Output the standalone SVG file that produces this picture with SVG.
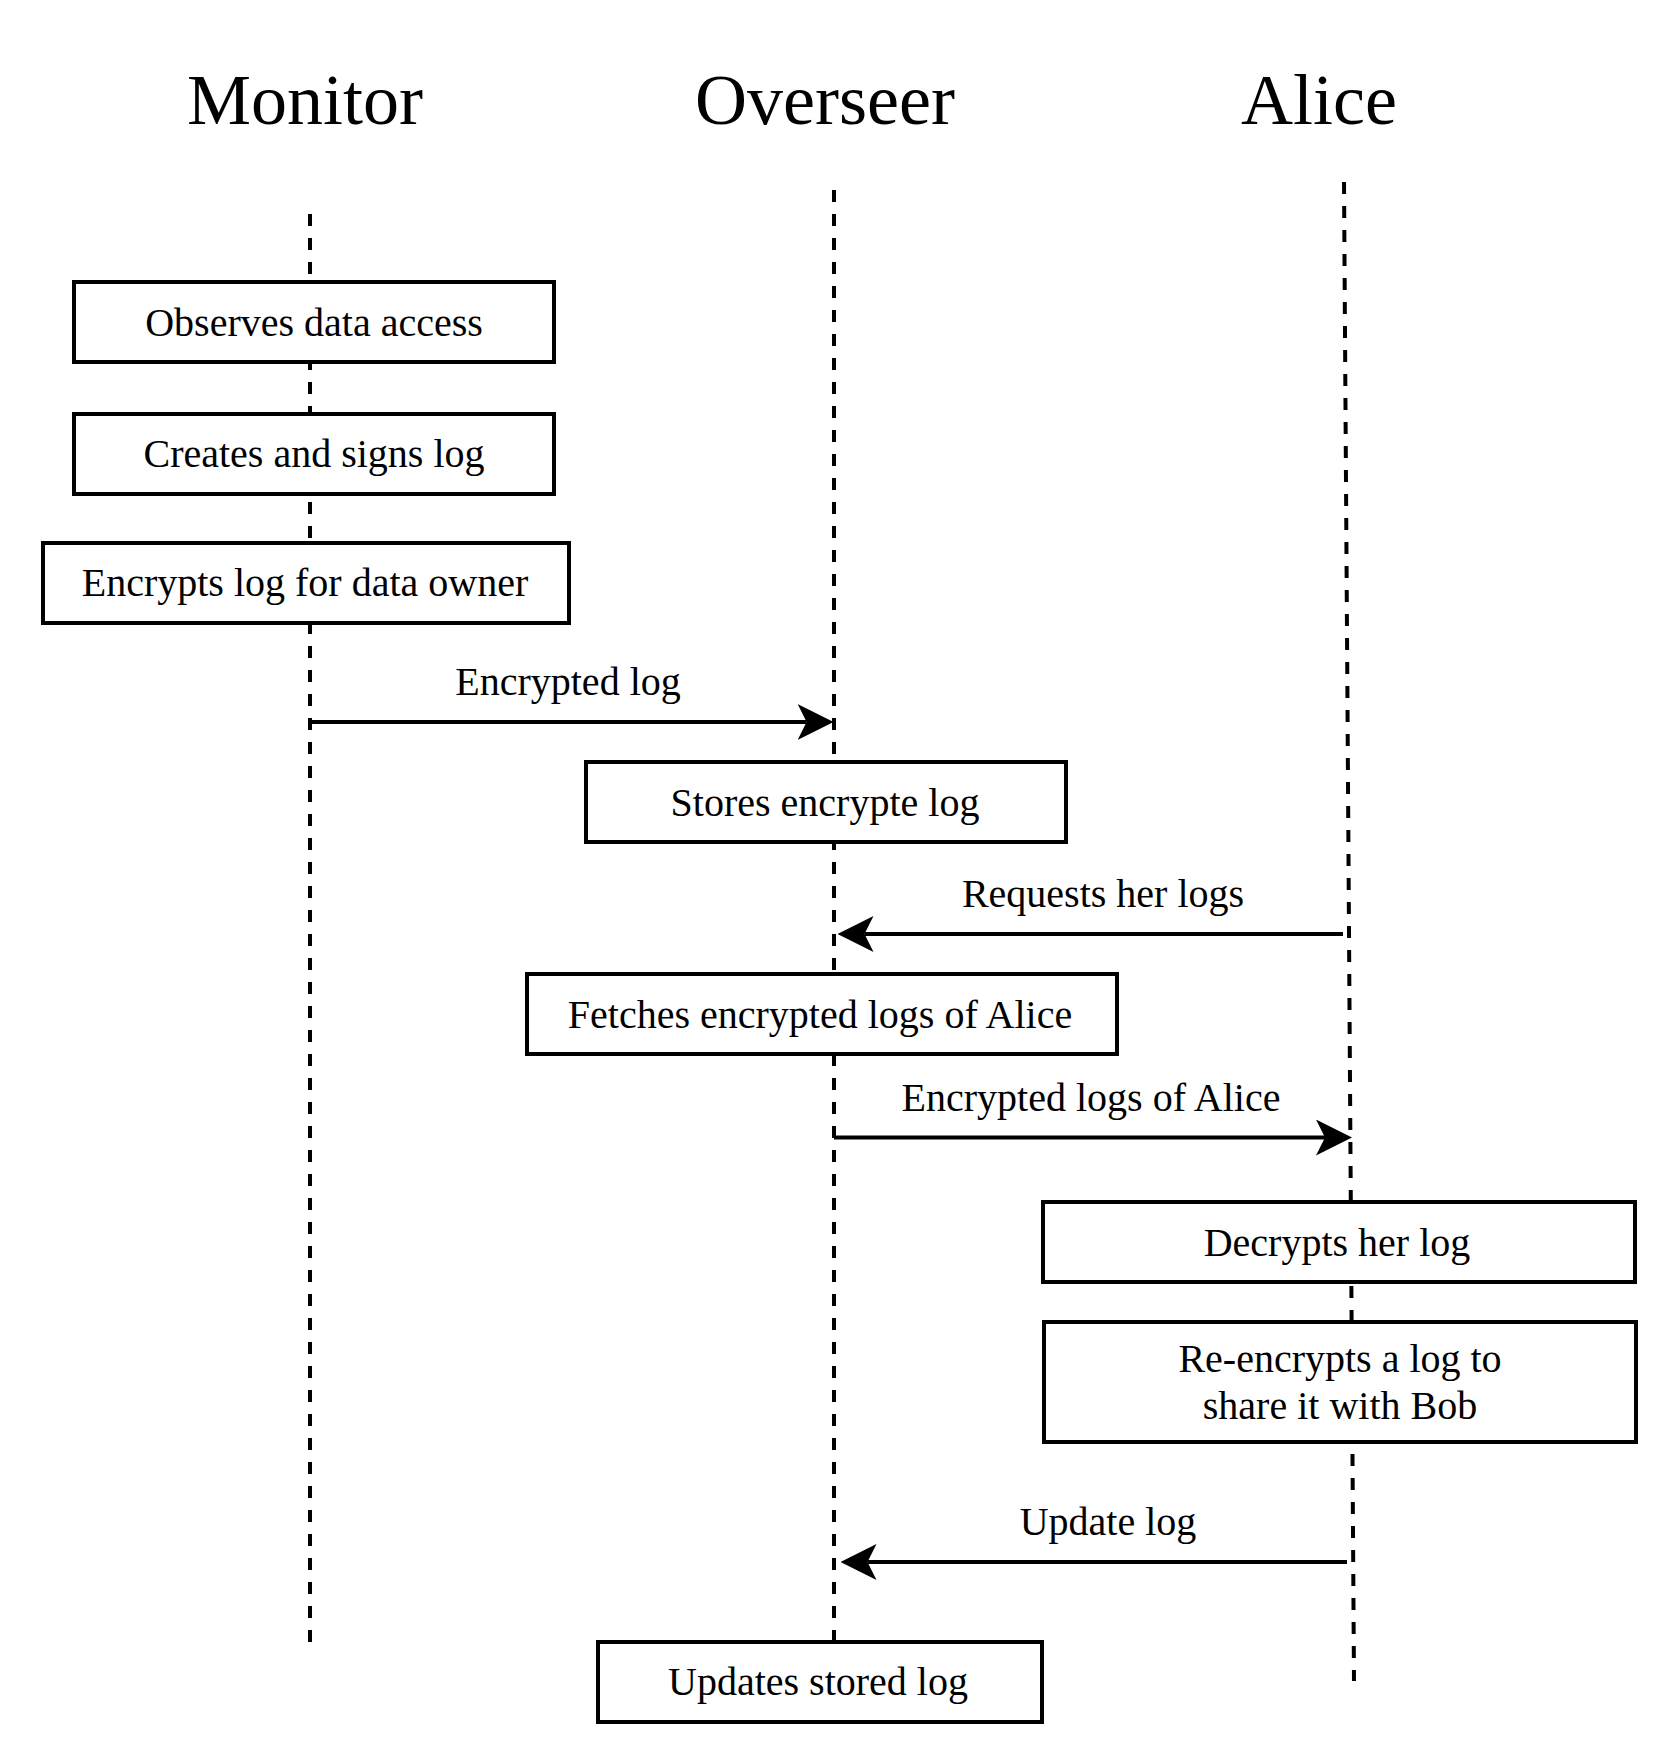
<svg xmlns="http://www.w3.org/2000/svg" width="1676" height="1764" viewBox="0 0 1676 1764">
<style>
  .title { font-family: "Liberation Serif", "Times New Roman", serif; font-size: 72px; fill: #000; text-anchor: middle; }
  .lbl { font-family: "Liberation Serif", "Times New Roman", serif; font-size: 40px; fill: #000; text-anchor: middle; }
  .box { fill: #fff; stroke: #000; stroke-width: 4; }
  .life { stroke: #000; stroke-width: 4; stroke-dasharray: 12 12; fill: none; }
  .msg { stroke: #000; stroke-width: 4; fill: none; marker-end: url(#arrow); }
</style>
<defs>
  <marker id="arrow" viewBox="0 0 36 36" refX="9" refY="18" markerWidth="36" markerHeight="36" markerUnits="userSpaceOnUse" orient="auto">
    <path d="M36,18 L0,0 L9,18 L0,36 Z" fill="#000"/>
  </marker>
</defs>
<rect width="1676" height="1764" fill="#fff"/>

<g id="lifelines">
  <g id="monitor">
    <text class="title" x="305" y="124">Monitor</text>
    <line class="life" x1="310" y1="214" x2="310" y2="1642"/>
  </g>
  <g id="overseer">
    <text class="title" x="825" y="124">Overseer</text>
    <line class="life" x1="834" y1="190" x2="834" y2="1642"/>
  </g>
  <g id="alice">
    <text class="title" x="1319" y="124">Alice</text>
    <line class="life" x1="1344" y1="182" x2="1354" y2="1681"/>
  </g>
</g>

<g id="observes">
  <rect class="box" x="74" y="282" width="480" height="80"/>
  <text class="lbl" x="314" y="336">Observes data access</text>
</g>
<g id="creates">
  <rect class="box" x="74" y="414" width="480" height="80"/>
  <text class="lbl" x="314" y="467">Creates and signs log</text>
</g>
<g id="encrypts">
  <rect class="box" x="43" y="543" width="526" height="80"/>
  <text class="lbl" x="305" y="596">Encrypts log for data owner</text>
</g>
<g id="stores">
  <rect class="box" x="586" y="762" width="480" height="80"/>
  <text class="lbl" x="825" y="816">Stores encrypte log</text>
</g>
<g id="fetches">
  <rect class="box" x="527" y="974" width="590" height="80"/>
  <text class="lbl" x="820" y="1028">Fetches encrypted logs of Alice</text>
</g>
<g id="decrypts">
  <rect class="box" x="1043" y="1202" width="592" height="80"/>
  <text class="lbl" x="1337" y="1256">Decrypts her log</text>
</g>
<g id="reencrypts">
  <rect class="box" x="1044" y="1322" width="592" height="120"/>
  <text class="lbl" x="1340" y="1372">Re-encrypts a log to</text>
  <text class="lbl" x="1340" y="1419">share it with Bob</text>
</g>
<g id="updates">
  <rect class="box" x="598" y="1642" width="444" height="80"/>
  <text class="lbl" x="818" y="1695">Updates stored log</text>
</g>

<g id="connectors">
  <line class="msg" x1="312" y1="722" x2="806.6" y2="722"/>
  <text class="lbl" x="568" y="695">Encrypted log</text>
  <line class="msg" x1="1343" y1="934" x2="864.5" y2="934"/>
  <text class="lbl" x="1103" y="907">Requests her logs</text>
  <line class="msg" x1="834" y1="1137.5" x2="1325" y2="1137.5"/>
  <text class="lbl" x="1091" y="1111">Encrypted logs of Alice</text>
  <line class="msg" x1="1347" y1="1562" x2="867.5" y2="1562"/>
  <text class="lbl" x="1108" y="1535">Update log</text>
</g>
</svg>
